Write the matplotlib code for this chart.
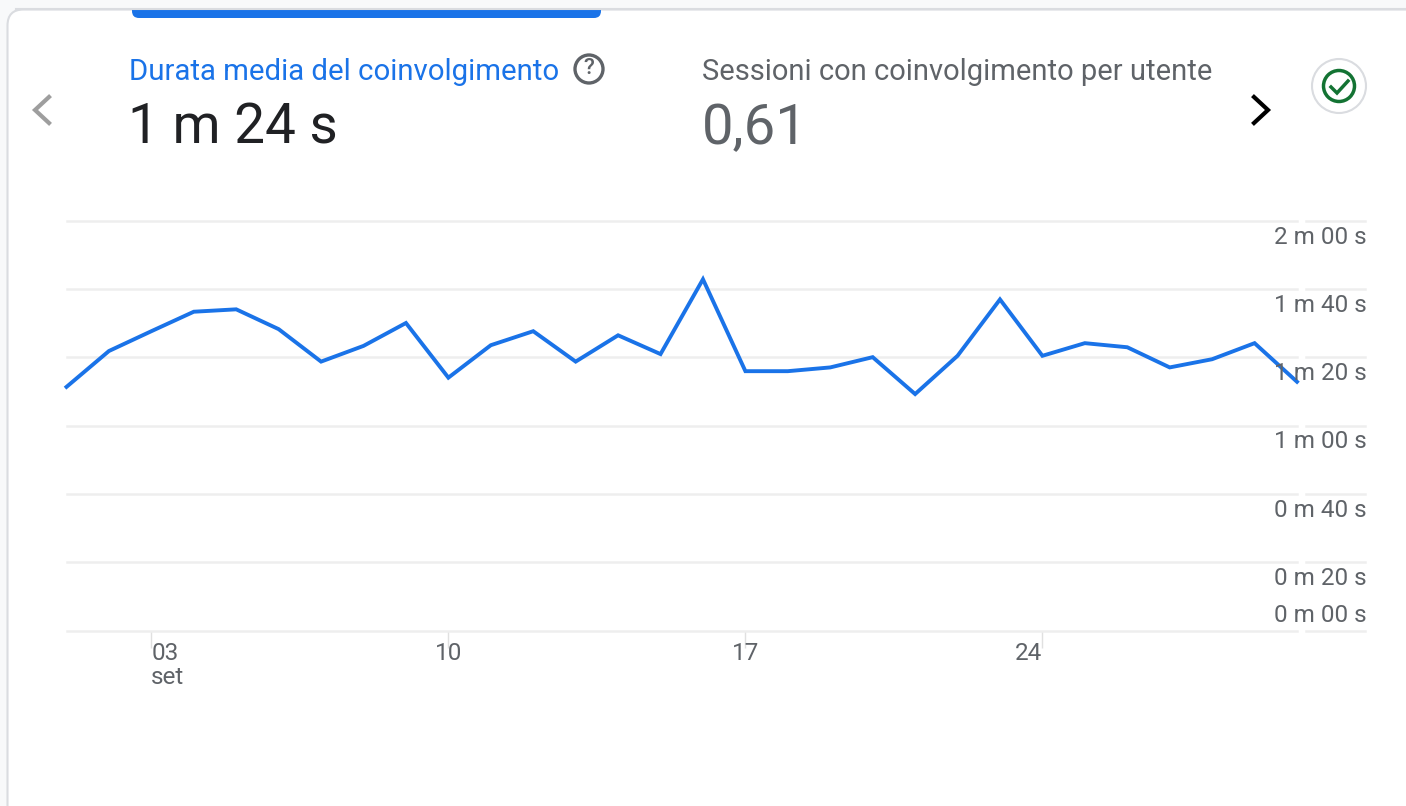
import matplotlib
matplotlib.use("Agg")
import matplotlib.pyplot as plt
from matplotlib.patches import FancyBboxPatch, Circle, Rectangle
from matplotlib.transforms import blended_transform_factory

W, H = 1406, 806
BLUE = "#1a73e8"
GREY = "#5f6368"
GRID = "#eeeeee"

days = list(range(1, 31))
# seconds
durata = [71.3, 81.8, 87.6, 93.3, 94.0, 88.2, 78.7, 83.3, 90.0, 74.0,
          83.5, 87.6, 78.7, 86.4, 80.9, 102.8, 75.9, 75.9, 77.0, 80.0,
          69.2, 80.4, 96.9, 80.4, 84.1, 82.9, 77.0, 79.4, 84.1, 72.8]
y_ticks = [0, 20, 40, 60, 80, 100, 120]
y_labels = ["0 m 00 s", "0 m 20 s", "0 m 40 s", "1 m 00 s", "1 m 20 s", "1 m 40 s", "2 m 00 s"]
x_ticks = [3, 10, 17, 24]
x_labels = ["03", "10", "17", "24"]
x_aligns = ["left", "center", "center", "right"]

plt.rcParams["font.family"] = ["Roboto", "DejaVu Sans"]
fig = plt.figure(figsize=(W / 100, H / 100), dpi=100, facecolor="#f8f9fa")

# page furniture, in pixel coordinates
bg = fig.add_axes([0, 0, 1, 1], zorder=0)
bg.set_xlim(0, W)
bg.set_ylim(H, 0)
bg.axis("off")
bg.add_patch(FancyBboxPatch((7.5, 9.5), W + 100, H + 100, boxstyle="round,pad=0,rounding_size=16",
                            fc="white", ec="#dadce0", lw=1.5))
bg.add_patch(FancyBboxPatch((132, -10), 469, 28, boxstyle="round,pad=0,rounding_size=7",
                            fc=BLUE, ec="none"))
bg.add_patch(Rectangle((0, 0), W, 9, fc="#f8f9fa", ec="none"))
bg.plot([16, W], [9, 9], color="#dadce0", lw=1.5)

bg.text(129, 71.5, "Durata media del coinvolgimento", color=BLUE, fontsize=21.2, va="center", ha="left")
bg.text(128, 128.5, "1 m 24 s", color="#202124", fontsize=39.5, va="center", ha="left")
bg.text(702, 71.5, "Sessioni con coinvolgimento per utente", color=GREY, fontsize=21, va="center", ha="left")
bg.text(702, 128.5, "0,61", color=GREY, fontsize=40.5, va="center", ha="left")

# help icon
bg.add_patch(Circle((589, 69), 14, fc="none", ec=GREY, lw=2.4))
bg.text(589, 69, "?", color=GREY, fontsize=16, va="center", ha="center", fontweight="medium")

# arrows
bg.plot([49, 35, 49], [97, 110, 123], color="#9e9e9e", lw=3, solid_joinstyle="miter")
bg.plot([1254, 1268, 1254], [97, 110, 123], color="black", lw=3, solid_joinstyle="miter")

# status icon
bg.add_patch(Circle((1339, 86), 27, fc="white", ec="#dadce0", lw=1.5))
bg.add_patch(Circle((1339, 86), 15.5, fc="none", ec="#137333", lw=2.5))
bg.plot([1331, 1337, 1348], [87, 93, 81], color="#137333", lw=2.5, solid_joinstyle="miter")

# chart, axes box spans day 1..30 and 0..120 s
left, right, top, bottom = 66.5, 1297, 220.5, 630.5
ax = fig.add_axes([left / W, 1 - bottom / H, (right - left) / W, (bottom - top) / H], zorder=1)
ax.patch.set_alpha(0)
ax.set_xlim(days[0], days[-1])
ax.set_ylim(0, 120)
for s in ax.spines.values():
    s.set_visible(False)
ax.set_yticks(y_ticks)
ax.set_yticklabels([])
ax.set_xticks(x_ticks)
ax.set_xticklabels([])
ax.tick_params(axis="y", length=0)
ax.tick_params(axis="x", length=12, width=1, color="#e0e0e0")
ax.grid(axis="y", color=GRID, lw=1.8, clip_on=False)
ax.set_axisbelow(True)

trans = blended_transform_factory(bg.transData, ax.transData)
for v, lab in zip(y_ticks, y_labels):
    # short stub of the gridline under the labels
    ax.plot([1306, 1365], [v, v], color=GRID, lw=1.8, transform=trans, clip_on=False, zorder=1)
    off = 15.5 if v == 0 else -16.5
    ax.annotate(lab, xy=(1366.5, v), xycoords=trans, xytext=(0, off), textcoords="offset pixels",
                ha="right", va="center", color=GREY, fontsize=17.5, zorder=4)

ax.plot(days, durata, color=BLUE, lw=2.8, solid_joinstyle="miter", clip_on=False, zorder=3)

for d, lab, al in zip(x_ticks, x_labels, x_aligns):
    ax.annotate(lab, xy=(d, 0), xycoords="data", xytext=(0, -23), textcoords="offset pixels",
                ha=al, va="center", color=GREY, fontsize=17.5)
ax.annotate("set", xy=(x_ticks[0], 0), xycoords="data", xytext=(0, -47), textcoords="offset pixels",
            ha="left", va="center", color=GREY, fontsize=17.5)

fig.savefig("out.png", dpi=100, facecolor=fig.get_facecolor())
